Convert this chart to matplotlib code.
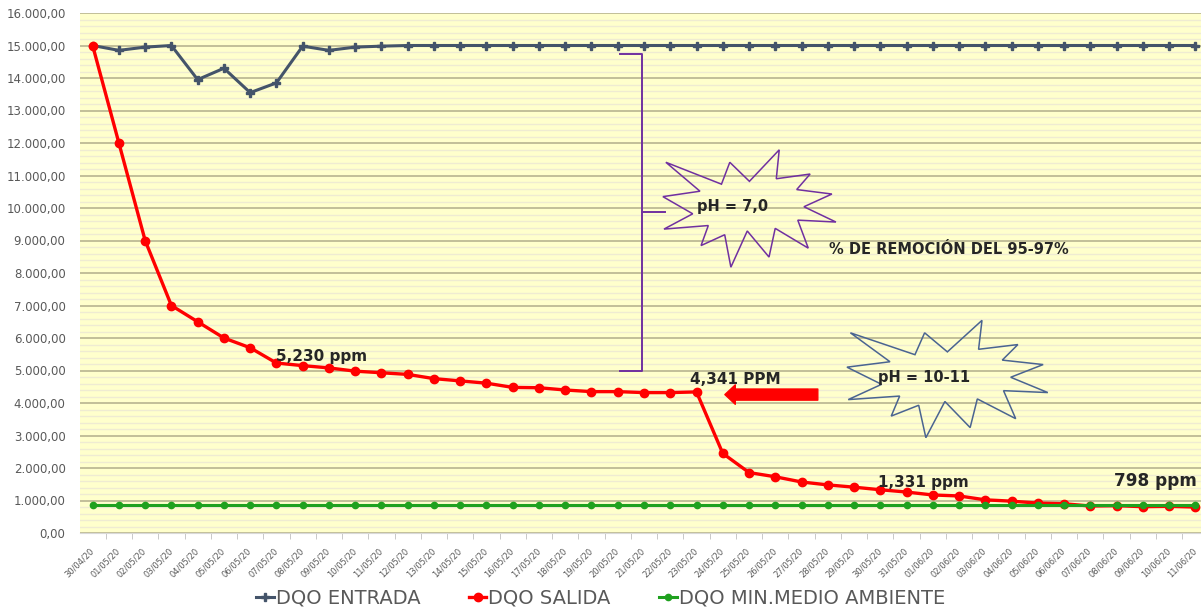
import matplotlib
matplotlib.use('Agg')
import matplotlib.pyplot as plt
from matplotlib.patches import Polygon
from matplotlib.ticker import MultipleLocator, FuncFormatter

plt.rcParams['font.family'] = ['DejaVu Sans']

fechas = [
    '30/04/20', '01/05/20', '02/05/20', '03/05/20', '04/05/20', '05/05/20',
    '06/05/20', '07/05/20', '08/05/20', '09/05/20', '10/05/20', '11/05/20',
    '12/05/20', '13/05/20', '14/05/20', '15/05/20', '16/05/20', '17/05/20',
    '18/05/20', '19/05/20', '20/05/20', '21/05/20', '22/05/20', '23/05/20',
    '24/05/20', '25/05/20', '26/05/20', '27/05/20', '28/05/20', '29/05/20',
    '30/05/20', '31/05/20', '01/06/20', '02/06/20', '03/06/20', '04/06/20',
    '05/06/20', '06/06/20', '07/06/20', '08/06/20', '09/06/20', '10/06/20',
    '11/06/20',
]

dqo_entrada = [
    15000, 14850, 14950, 15000, 13950, 14300, 13550, 13850, 14980, 14850,
    14950, 14980, 15000, 15000, 15000, 15000, 15000, 15000, 15000, 15000,
    15000, 15000, 15000, 15000, 15000, 15000, 15000, 15000, 15000, 15000,
    15000, 15000, 15000, 15000, 15000, 15000, 15000, 15000, 15000, 15000,
    15000, 15000, 15000,
]

dqo_salida = [
    15000, 12000, 9000, 7000, 6500, 6000, 5700, 5230, 5150, 5080,
    4980, 4930, 4880, 4750, 4680, 4610, 4480, 4470, 4400, 4350,
    4350, 4320, 4320, 4341, 2450, 1860, 1730, 1570, 1480, 1410,
    1331, 1260, 1170, 1140, 1020, 980, 920, 900, 830, 840,
    810, 820, 798,
]

dqo_minimo = [870] * len(fechas)

# contorno tipo "explosion" (unidades 0..21600, y hacia abajo)
EXPLOSION = [
    (10800, 5800), (14522, 0), (14155, 5325), (18380, 4457), (16702, 7315),
    (21097, 8137), (17607, 10475), (21600, 13290), (16837, 12942),
    (18145, 18095), (14020, 14457), (13247, 19737), (10532, 14935),
    (8485, 21600), (7715, 15627), (4762, 17617), (5667, 13937), (135, 14587),
    (3722, 11775), (0, 8615), (4627, 7617), (370, 2295), (7312, 6320),
    (8352, 2295),
]


def explosion(ax, x0, x1, y_top, y_bot, color):
    pts = [(x0 + (x1 - x0) * u / 21600, y_top - (y_top - y_bot) * v / 21600)
           for u, v in EXPLOSION]
    ax.add_patch(Polygon(pts, closed=True, fill=False, ec=color, lw=1.1, zorder=5))


fig = plt.figure(figsize=(12.01, 6.11), dpi=100)
ax = fig.add_axes([79.5 / 1201, 1 - 533 / 611, 1129 / 1201, 520 / 611])
ax.set_facecolor('#FFFFCC')

x = list(range(len(fechas)))
ax.plot(x, dqo_entrada, color='#44546A', lw=2.2, marker='P', ms=5.5,
        label='DQO ENTRADA', zorder=3)
ax.plot(x, dqo_salida, color='#FF0000', lw=2.4, marker='o', ms=6,
        label='DQO SALIDA', zorder=4)
ax.plot(x, dqo_minimo, color='#1FA11F', lw=2.2, marker='o', ms=4.5,
        label='DQO MIN.MEDIO AMBIENTE', zorder=4.5)

ax.set_xlim(-0.5, len(fechas) - 0.5)
ax.set_ylim(0, 16000)

ax.yaxis.set_major_locator(MultipleLocator(1000))
ax.yaxis.set_minor_locator(MultipleLocator(200))
ax.yaxis.set_major_formatter(FuncFormatter(
    lambda v, p: f'{v:,.2f}'.replace(',', 'X').replace('.', ',').replace('X', '.')))
ax.grid(which='minor', axis='y', color='#EFEBD2', lw=1.0, zorder=0)
ax.grid(which='major', axis='y', color='#BDBA95', lw=1.3, zorder=1)
ax.tick_params(axis='y', which='both', length=0, pad=10, labelsize=8.5,
               labelcolor='#595959')

ax.set_xticks(x)
ax.set_xticklabels(fechas, rotation=45, ha='right', va='center',
                   rotation_mode='anchor', fontsize=6, color='#595959')
ax.set_xticks([i + 0.5 for i in x[:-1]], minor=True)
ax.tick_params(axis='x', which='major', length=0, pad=12)
ax.tick_params(axis='x', which='minor', length=4, color='#BFBFBF')

for side in ['top', 'right', 'left']:
    ax.spines[side].set_visible(False)
ax.spines['bottom'].set_color('#D9D9D9')

# corchete de la primera etapa
morado = '#7030A0'
ax.plot([20.1, 20.93, 20.93, 20.1], [14750, 14750, 5000, 5000], color=morado,
        lw=1.4, zorder=5)
ax.plot([20.93, 21.8], [9880, 9880], color=morado, lw=1.4, zorder=5)

explosion(ax, 21.72, 28.31, 11790, 8179, morado)
explosion(ax, 28.73, 36.38, 6543, 2932, '#4A6491')

texto = dict(fontweight='bold', color='#262626', ha='center', va='center', zorder=6)
ax.text(24.36, 10031, 'pH = 7,0', fontsize=10.5, **texto)
ax.text(31.66, 4784, 'pH = 10-11', fontsize=10.5, **texto)
ax.text(32.61, 8735, '% DE REMOCIÓN DEL 95-97%', fontsize=10.5, **texto)

etiquetas = [(7, ' ppm', 45, 7, 11), (23, ' PPM', 39, 12, 11),
             (30, ' ppm', 43, 7, 11), (42, ' ppm', -40, 26, 12.2)]
for i, unidad, dx, dy, fs in etiquetas:
    ax.annotate(f'{dqo_salida[i]:,}{unidad}', xy=(i, dqo_salida[i]),
                xytext=(dx, dy), textcoords='offset pixels', fontsize=fs,
                **texto)

# flecha roja hacia el punto de cambio de pH
ax.annotate('', xy=(24.08, 4259), xytext=(27.62, 4259),
            arrowprops=dict(arrowstyle='simple,head_width=1.4,head_length=0.75,tail_width=0.8',
                            color='#FF0000', mutation_scale=10, shrinkA=0, shrinkB=0),
            zorder=6)

fig.legend(loc='center', bbox_to_anchor=(0.5, 1 - 598 / 611), ncol=3,
           frameon=False, fontsize=14, labelcolor='#595959', handlelength=0.9,
           handletextpad=0.1, columnspacing=2.5)

fig.savefig('out.png', dpi=100)
